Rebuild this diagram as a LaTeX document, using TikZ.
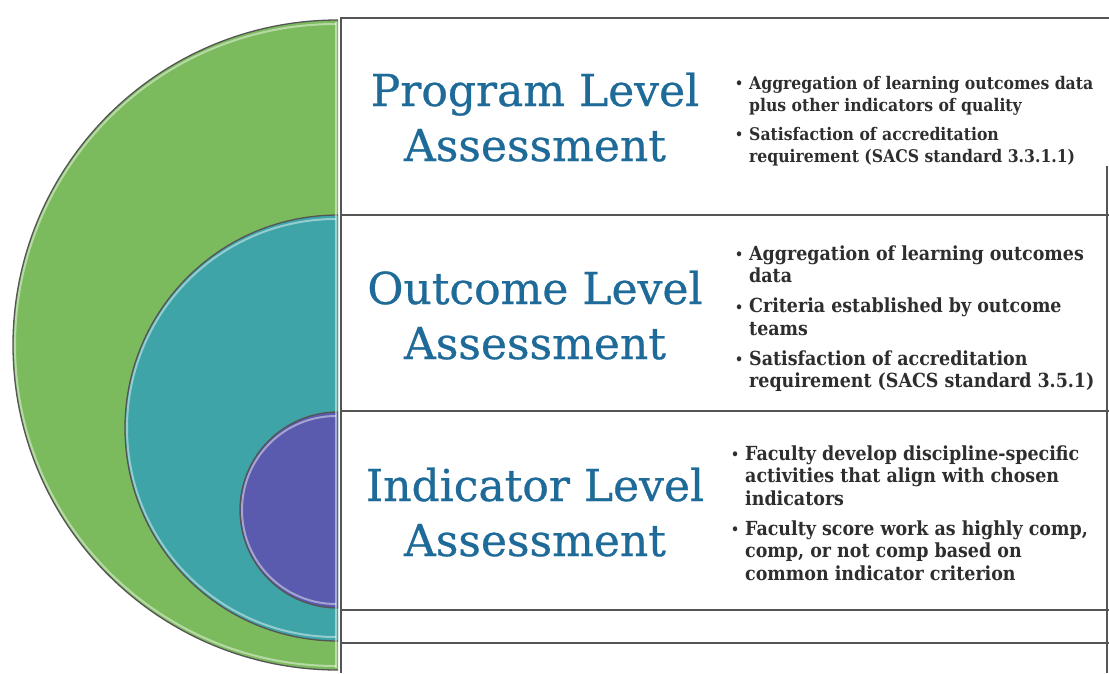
\documentclass[tikz,border=0pt]{standalone}
\usepackage{fontspec}
\setmainfont{DejaVu Serif}
\newfontfamily\titfont{DejaVu Serif}[FakeBold=0.6]
\newfontfamily\bulfont{DejaVu Serif Condensed}
\definecolor{grn}{HTML}{7CBB5D}
\definecolor{tea}{HTML}{3FA4A8}
\definecolor{pur}{HTML}{5A5AAE}
\definecolor{ttl}{HTML}{1E6A98}
\definecolor{txt}{HTML}{2E2E2E}
\definecolor{frame}{HTML}{555555}
\newcommand{\bul}{\makebox[14pt][l]{\raisebox{0.5pt}{\fontsize{14}{14}\selectfont\textbullet}}}
\begin{document}
\begin{tikzpicture}[x=1pt,y=-1pt,
  title/.style={font=\titfont\fontsize{44}{55}\selectfont, text=ttl, align=center, inner sep=0pt, anchor=base},
  bullets/.style={font=\bulfont\bfseries\fontsize{17.4}{22}\selectfont, text=txt, inner sep=0pt, anchor=base west},
  bigbullets/.style={bullets, font=\bulfont\bfseries\fontsize{19.4}{22.5}\selectfont},
  rule/.style={draw=frame, line width=1.6pt},
  halfline/.style={draw=frame, line width=1.3pt},
  shine/.style={draw=white, opacity=0.45, line width=2pt}]
\useasboundingbox (0,0) rectangle (1109,673);
\fill[white] (0,0) rectangle (1109,673);

% green half disc
\fill[grn] (338,20) arc[start angle=90,end angle=270,radius=325pt] -- cycle;
\draw[shine] (336,24) arc[start angle=90,end angle=270,radius=321pt];
\draw[halfline] (338,20) arc[start angle=90,end angle=270,radius=325pt];
% teal half disc
\fill[tea] (338,215) arc[start angle=90,end angle=270,radius=213pt] -- cycle;
\draw[shine] (336,219) arc[start angle=90,end angle=270,radius=209pt];
\draw[halfline] (338,215) arc[start angle=90,end angle=270,radius=213pt];
% purple half disc
\fill[pur] (338,412) arc[start angle=90,end angle=270,radius=98pt] -- cycle;
\draw[shine] (336,416) arc[start angle=90,end angle=270,radius=94pt];
\draw[halfline] (338,412) arc[start angle=90,end angle=270,radius=98pt];
\draw[white, opacity=0.5, line width=2pt] (336,22) -- (336,668);

% frame
\draw[rule] (341,18) -- (1109,18);
\draw[rule] (341,215) -- (1109,215);
\draw[rule] (341,411) -- (1109,411);
\draw[rule] (341,610) -- (1109,610);
\draw[rule] (341,643) -- (1109,643);
\draw[rule] (341,17) -- (341,673);
\draw[rule] (1107,166) -- (1107,673);

% titles (anchor base = baseline of last line)
\node[title] (t1) at (535,161) {Program Level\\Assessment};
\node[title] (t2) at (535,359) {Outcome Level\\Assessment};
\node[title] (t3) at (535,556) {Indicator Level\\Assessment};

% bullets
\node[bullets] (b1) at (735,89) {\begin{tabular}[t]{@{}l@{}l@{}}
\bul & Aggregation of learning outcomes data\\
 & plus other indicators of quality\\[7pt]
\bul & Satisfaction of accreditation\\
 & requirement (SACS standard 3.3.1.1)
\end{tabular}};
\node[bigbullets] (b2) at (735,260) {\begin{tabular}[t]{@{}l@{}l@{}}
\bul & Aggregation of learning outcomes\\
 & data\\[7.5pt]
\bul & Criteria established by outcome\\
 & teams\\[7.5pt]
\bul & Satisfaction of accreditation\\
 & requirement (SACS standard 3.5.1)
\end{tabular}};
\node[bigbullets] (b3) at (731,460) {\begin{tabular}[t]{@{}l@{}l@{}}
\bul & Faculty develop discipline-specific\\
 & activities that align with chosen\\
 & indicators\\[7.5pt]
\bul & Faculty score work as highly comp,\\
 & comp, or not comp based on\\
 & common indicator criterion
\end{tabular}};
\end{tikzpicture}
\end{document}
